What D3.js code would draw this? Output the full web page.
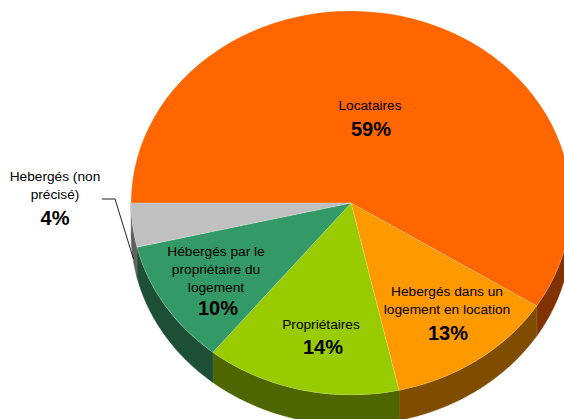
<!DOCTYPE html>
<html>
<head>
<meta charset="utf-8">
<script src="https://cdn.jsdelivr.net/npm/d3@7"></script>
<style>
html,body{margin:0;padding:0;background:#fff}
svg{display:block}
text{font-family:"Liberation Sans",Arial,sans-serif;fill:#000;text-anchor:middle}
</style>
</head>
<body>
<svg id="c" width="564" height="419"></svg>
<script>
const categories = [
  ["Locataires"],
  ["Hebergés dans un", "logement en location"],
  ["Propriétaires"],
  ["Hébergés par le", "propriétaire du", "logement"],
  ["Hebergés (non", "précisé)"]
];
const values = [59.0, 12.5, 14.3, 10.5, 3.7];
const percentLabels = ["59%", "13%", "14%", "10%", "4%"];
const topColors = ["#FF6600", "#FF9900", "#99CC00", "#339966", "#C0C0C0"];
const sideColors = ["#803300", "#804D00", "#4D6600", "#1D4F37", "#606060"];
const labelBaselines = [[370, 110], [447, 296], [321, 329], [216, 256], [55, 181]];
const percentPositions = [[371, 136], [448, 340], [323, 354], [218, 315], [55, 225]];

const W = 564, H = 419, cx = 351, cy = 203, rx = 220, ry = 192, depth = 30;
const svg = d3.select("#c");

const pie = d3.pie().sort(null).value(d => d)
  .startAngle(-Math.PI / 2).endAngle(Math.PI * 1.5);
const arcs = pie(values);

const X = d3.scaleLinear().domain([-1, 1]).range([cx - rx, cx + rx]);
const Y = d3.scaleLinear().domain([-1, 1]).range([cy - ry, cy + ry]);

const wallArea = d3.area()
  .x(a => X(Math.sin(a)))
  .y0(a => Y(-Math.cos(a)))
  .y1(a => Y(-Math.cos(a)) + depth);

arcs.forEach((d, i) => {
  const a0 = Math.max(d.startAngle, Math.PI / 2);
  const a1 = Math.min(d.endAngle, Math.PI * 1.5);
  if (a1 <= a0) return;
  const n = 80;
  const pts = d3.range(n + 1).map(k => a0 + (a1 - a0) * k / n);
  svg.append("path").attr("d", wallArea(pts))
    .attr("fill", sideColors[i])
    .attr("stroke", sideColors[i]).attr("stroke-width", 0.4);
  svg.append("line")
    .attr("x1", X(Math.sin(a1))).attr("x2", X(Math.sin(a1)))
    .attr("y1", Y(-Math.cos(a1))).attr("y2", Y(-Math.cos(a1)) + depth)
    .attr("stroke", "#fff").attr("stroke-opacity", 0.2).attr("stroke-width", 1);
});

const arc = d3.arc().innerRadius(0).outerRadius(1);
const face = svg.append("g")
  .attr("transform", `translate(${cx},${cy}) scale(${rx},${ry})`);
face.selectAll("path").data(arcs).join("path")
  .attr("d", arc)
  .attr("fill", (d, i) => topColors[i])
  .attr("stroke", "#fff").attr("stroke-opacity", 0.22)
  .attr("stroke-width", 0.8).attr("vector-effect", "non-scaling-stroke");

svg.append("path")
  .attr("d", d3.line()([[102, 199], [115, 199], [133.5, 259]]))
  .attr("fill", "none").attr("stroke", "#222").attr("stroke-width", 1);

categories.forEach((lines, i) => {
  const [lx, ly] = labelBaselines[i];
  const g = svg.append("g");
  lines.forEach((t, k) => {
    g.append("text").attr("x", lx).attr("y", ly + k * 18)
      .attr("font-size", 13.7).text(t);
  });
  g.append("text").attr("x", percentPositions[i][0])
    .attr("y", percentPositions[i][1])
    .attr("font-size", 20).attr("font-weight", "bold")
    .text(percentLabels[i]);
});
</script>
</body>
</html>
